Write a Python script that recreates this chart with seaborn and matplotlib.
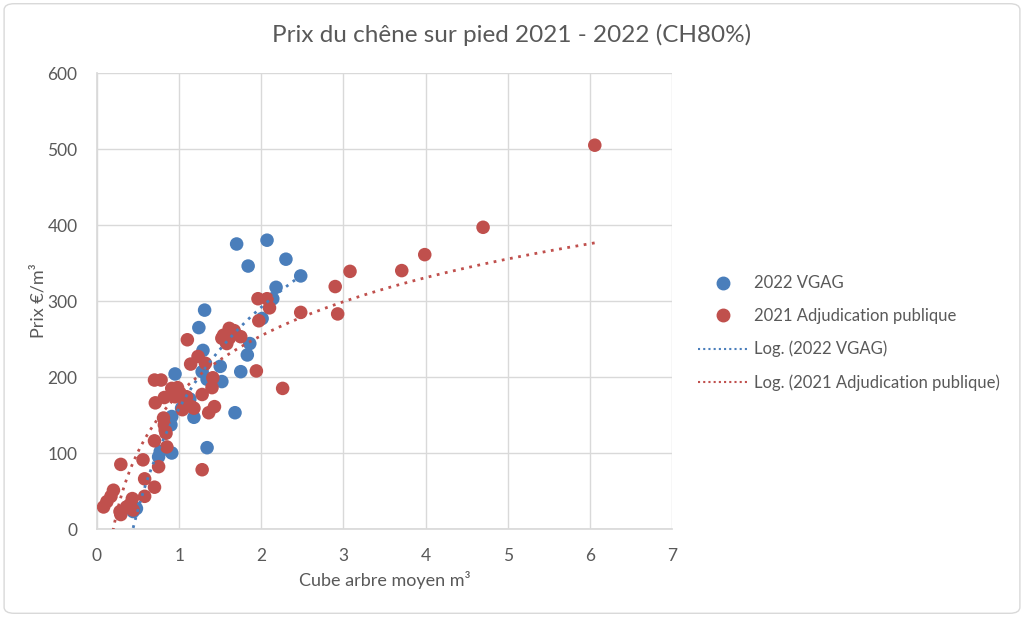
import numpy as np
import pandas as pd
import matplotlib
matplotlib.use("Agg")
import matplotlib.pyplot as plt
import seaborn as sns
from matplotlib.patches import FancyBboxPatch
from matplotlib.lines import Line2D

# ---- data ----
vgag_x = [1.70, 2.07, 1.84, 2.30, 2.48, 2.18, 2.14, 2.01, 1.31, 1.24, 1.29, 0.95,
          1.50, 1.52, 1.28, 1.34, 1.86, 1.83, 1.75, 1.68, 1.34, 1.13, 1.18, 1.03,
          0.91, 0.90, 0.77, 0.75, 0.91, 0.48, 0.44, 1.57]
vgag_y = [375, 380, 346, 355, 333, 318, 303, 277, 288, 265, 235, 204,
          214, 194, 207, 197, 244, 229, 207, 153, 107, 171, 147, 159,
          148, 137, 102, 95, 100, 27, 23, 246]

adj_x = [6.06, 4.70, 3.99, 3.71, 3.08, 2.90, 2.93, 2.48, 1.96, 2.07, 2.10, 1.97,
         1.75, 1.94, 2.26, 1.61, 1.67, 1.54, 1.52, 1.61, 1.58, 1.10, 1.23, 1.32,
         1.14, 1.41, 1.40, 1.28, 1.43, 1.36, 0.70, 0.78, 0.91, 0.98, 1.01, 0.95,
         1.09, 1.07, 1.15, 1.04, 1.18, 0.82, 0.71, 0.81, 0.82, 0.83, 0.84, 0.70,
         0.85, 1.28, 0.29, 0.56, 0.75, 0.58, 0.70, 0.58, 0.20, 0.17, 0.12, 0.08,
         0.29, 0.28, 0.43, 0.40, 0.36, 0.44]
adj_y = [505, 397, 361, 340, 339, 319, 283, 285, 303, 303, 291, 274,
         253, 208, 185, 264, 261, 255, 251, 251, 244, 249, 227, 218,
         217, 199, 186, 177, 161, 153, 196, 196, 185, 186, 179, 174,
         174, 165, 161, 157, 159, 173, 166, 146, 137, 130, 126, 116,
         108, 78, 85, 91, 82, 66, 55, 43, 51, 43, 36, 29,
         19, 23, 40, 32, 29, 25]

series_names = ["2022 VGAG", "2021 Adjudication publique"]
title = "Prix du chêne sur pied 2021 - 2022 (CH80%)"
xlabel = "Cube arbre moyen m³"
ylabel = "Prix €/m³"
x_ticks = [0, 1, 2, 3, 4, 5, 6, 7]
y_ticks = [0, 100, 200, 300, 400, 500, 600]

blue = "#4A7EBB"
red = "#C0504D"
gray = "#595959"

df = pd.concat([
    pd.DataFrame({"x": vgag_x, "y": vgag_y, "serie": series_names[0]}),
    pd.DataFrame({"x": adj_x, "y": adj_y, "serie": series_names[1]}),
])

sns.set_theme(style="whitegrid")
plt.rcParams["font.family"] = ["Lato", "DejaVu Sans"]

fig = plt.figure(figsize=(10.24, 6.17), dpi=100)
ax = fig.add_axes([97 / 1024, 1 - 529 / 617, (672 - 97) / 1024, (529 - 73) / 617])

sns.scatterplot(data=df, x="x", y="y", hue="serie", palette=[blue, red],
                s=95, edgecolor="none", linewidth=0, ax=ax, legend=False, zorder=3)

# logarithmic trendlines fitted from data
def log_fit(xs, ys):
    xs = np.asarray(xs, float)
    ys = np.asarray(ys, float)
    a, b = np.polyfit(np.log(xs), ys, 1)
    xx = np.linspace(xs.min(), xs.max(), 400)
    return xx, a * np.log(xx) + b

for xs, ys, c in [(vgag_x, vgag_y, blue), (adj_x, adj_y, red)]:
    xx, yy = log_fit(xs, ys)
    sns.lineplot(x=xx, y=yy, color=c, linestyle=(0, (1, 2)), linewidth=2.0,
                 ax=ax, zorder=4, sort=False)

ax.set_xlim(0, 7)
ax.set_ylim(0, 600)
ax.set_xticks(x_ticks)
ax.set_yticks(y_ticks)
ax.set_xticklabels([str(v) for v in x_ticks])
ax.set_yticklabels([str(v) for v in y_ticks])
ax.grid(True, color="#D9D9D9", linewidth=1.0)
for s in ax.spines.values():
    s.set_visible(False)
ax.spines["bottom"].set_visible(True)
ax.spines["bottom"].set_color("#D9D9D9")
ax.spines["left"].set_visible(True)
ax.spines["left"].set_color("#D9D9D9")
ax.tick_params(axis="both", length=0, labelsize=12.5, colors=gray)
ax.tick_params(axis="x", pad=14)
ax.tick_params(axis="y", pad=14)
ax.set_xlabel(xlabel, fontsize=13, color=gray)
ax.set_ylabel(ylabel, fontsize=13, color=gray)
ax.xaxis.set_label_coords(0.5, -(580 - 529) / 456, transform=ax.transAxes)
ax.yaxis.set_label_coords(-(97 - 38) / 575, 0.5, transform=ax.transAxes)
ax.xaxis.label.set_va("center")
ax.yaxis.label.set_va("center")
ax.set_facecolor("white")

fig.text(0.5, 1 - 35 / 617, title, ha="center", va="center", fontsize=17.5, color=gray)

handles = [
    Line2D([], [], marker="o", linestyle="none", color=blue, markersize=9),
    Line2D([], [], marker="o", linestyle="none", color=red, markersize=9),
    Line2D([], [], color=blue, linestyle=(0, (1, 1.5)), linewidth=1.5),
    Line2D([], [], color=red, linestyle=(0, (1, 1.5)), linewidth=1.5),
]
labels = series_names + ["Log. (" + series_names[0] + ")", "Log. (" + series_names[1] + ")"]
fig.legend(handles, labels, loc="center left", bbox_to_anchor=(698 / 1024, 1 - 333 / 617),
           frameon=False, fontsize=12.0, labelcolor=gray, handlelength=3.0,
           handletextpad=0.35, labelspacing=1.0, borderpad=0, borderaxespad=0)

border = FancyBboxPatch((0.004, 0.006), 0.992, 0.988, boxstyle="round,pad=0,rounding_size=0.01",
                        transform=fig.transFigure, fill=False, edgecolor="#D9D9D9", linewidth=1.0)
fig.patches.append(border)

fig.savefig("out.png", dpi=100, facecolor="white")
